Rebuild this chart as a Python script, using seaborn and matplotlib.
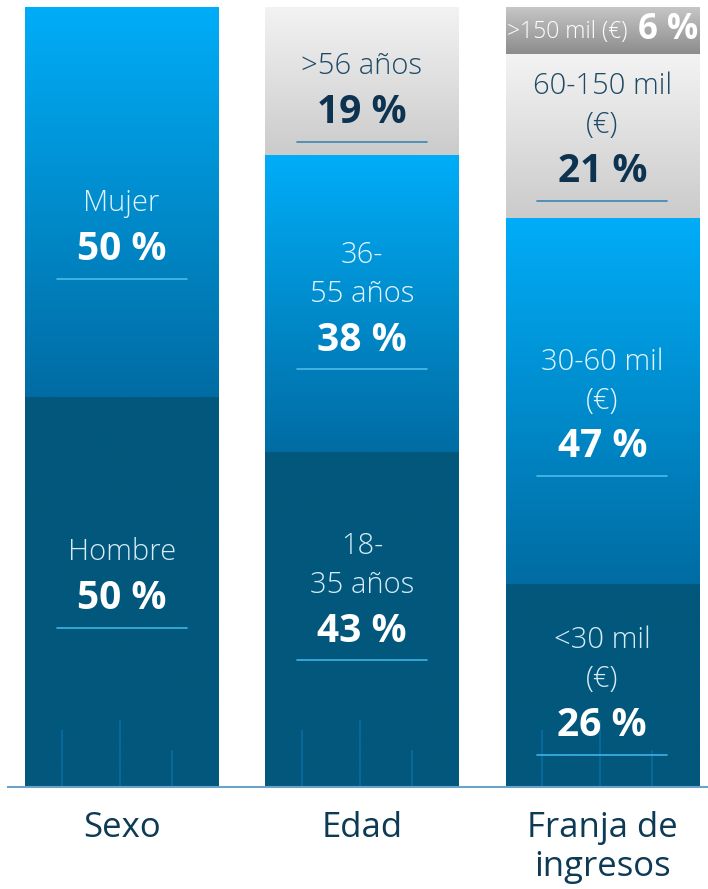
import numpy as np
import pandas as pd
import seaborn as sns
import matplotlib.pyplot as plt
import matplotlib.transforms as mtransforms
from matplotlib.colors import LinearSegmentedColormap

categories = ["Sexo", "Edad", "Franja de\ningresos"]

sexo_labels = ["Hombre", "Mujer"]
sexo_values = [50, 50]

edad_labels = ["18-\n35 años", "36-\n55 años", ">56 años"]
edad_values = [43, 38, 19]

ingresos_labels = ["<30 mil\n(€)", "30-60 mil\n(€)", "60-150 mil\n(€)", ">150 mil (€)"]
ingresos_values = [26, 47, 21, 6]

groups = [(sexo_labels, sexo_values), (edad_labels, edad_values), (ingresos_labels, ingresos_values)]

rows = []
for cat, (labels, values) in zip(categories, groups):
    top = 0
    for layer, (lab, val) in enumerate(zip(labels, values)):
        rows.append(dict(category=cat, layer=layer, label=lab, value=val, bottom=top, top=top + val))
        top += val
df = pd.DataFrame(rows)

# per layer (bottom -> top): bottom colour, top colour, label colour, pct colour, underline colour
layer_styles = [
    ("#02577c", "#02577c", "#d5ecf7", "white", "#3cb4e6"),
    ("#006ca3", "#00adf8", "#e3f4fc", "white", "#4cbbe8"),
    ("#cbcbcb", "#f3f3f3", "#1d4a66", "#0e3350", "#3a86b0"),
    ("#8c8c8c", "#c6c6c6", "white", "white", None),
]
# small vertical nudges (px, + = down) of the label blocks
nudges = {"Hombre": -5, "Mujer": 36, "18-\n35 años": -19, "36-\n55 años": 6, ">56 años": 20,
          "<30 mil\n(€)": 9, "30-60 mil\n(€)": 15, "60-150 mil\n(€)": 5}

sns.set_style("white")
plt.rcParams["font.family"] = ["Open Sans", "DejaVu Sans"]

W, H = 708, 889
fig = plt.figure(figsize=(W / 100, H / 100), dpi=100)
ax = fig.add_axes([8 / W, 1 - 787 / H, 700 / W, 780 / H])

# stacked bars: draw cumulative tops, tallest first
for layer in sorted(df["layer"].unique(), reverse=True):
    sub = df[df["layer"] == layer]
    sns.barplot(data=sub, x="category", y="top", order=categories, color=layer_styles[layer][1],
                width=0.804, saturation=1, errorbar=None, ax=ax)

xlim = (-0.473, 2.44)
bar_geo = {}
for p in ax.patches:
    idx = int(round(p.get_x() + p.get_width() / 2))
    bar_geo[categories[idx]] = (p.get_x(), p.get_width())

px = 0.72  # points per pixel
for _, r in df.iterrows():
    x0, w = bar_geo[r["category"]]
    c_bot, c_top, c_lab, c_pct, c_line = layer_styles[r["layer"]]
    cmap = LinearSegmentedColormap.from_list("g", [c_bot, c_top])
    ax.imshow(np.linspace(0, 1, 256).reshape(-1, 1), cmap=cmap, origin="lower", aspect="auto",
              extent=[x0, x0 + w, r["bottom"], r["top"]], zorder=2)
    xc = x0 + w / 2
    ymid = (r["bottom"] + r["top"]) / 2
    pct = f"{r['value']} %"
    if r["value"] < 10:
        ax.annotate(r["label"], xy=(x0 + w, ymid), xytext=(-71 * px, -2 * px), textcoords="offset points",
                    ha="right", va="center", fontsize=16.5, color=c_lab, fontweight="light", zorder=5)
        ax.annotate(pct, xy=(x0 + w, ymid), xytext=(-1 * px, 0), textcoords="offset points",
                    ha="right", va="center", fontsize=25, color=c_pct, fontweight="bold", zorder=5)
        continue
    lines = r["label"].split("\n")
    n = len(lines)
    span = 39 * (n - 1) + 77
    top_px = -span / 2 + nudges.get(r["label"], 0) + 4
    for i, line in enumerate(lines):
        ax.annotate(line, xy=(xc, ymid), xytext=(0, -(top_px + 39 * i) * px), textcoords="offset points",
                    ha="center", va="center", fontsize=21, color=c_lab, fontweight="light", zorder=5)
    pct_px = top_px + 39 * (n - 1) + 46
    ax.annotate(pct, xy=(xc, ymid), xytext=(0, -pct_px * px), textcoords="offset points",
                ha="center", va="center", fontsize=28, color=c_pct, fontweight="bold", zorder=5)
    trans = mtransforms.offset_copy(ax.transData, fig=fig, x=0, y=-(pct_px + 29) * px, units="points")
    ax.plot([xc - 0.27, xc + 0.27], [ymid, ymid], color=c_line, lw=1.2, transform=trans, zorder=5)

# faint decorative ticks at the foot of each bar
for cat, (x0, w) in bar_geo.items():
    for frac, hpx in [(0.19, 57), (0.49, 67), (0.76, 37)]:
        ax.vlines(x0 + frac * w, 0, hpx / 7.8, color="#0a6ea5", lw=1.5, alpha=0.75, zorder=3)

ax.set_xlim(*xlim)
ax.set_ylim(0, 100)
ax.set_xlabel("")
ax.set_ylabel("")
ax.set_yticks([])
ax.tick_params(axis="x", length=0, pad=17, labelsize=25, labelcolor="#0d3a55")
for lab in ax.get_xticklabels():
    lab.set_linespacing(1.2)
for s in ["top", "left", "right"]:
    ax.spines[s].set_visible(False)
ax.spines["bottom"].set_color("#6aa3c7")
ax.spines["bottom"].set_linewidth(1.5)
ax.spines["bottom"].set_zorder(6)

fig.savefig("out.png", dpi=100, facecolor="white")
